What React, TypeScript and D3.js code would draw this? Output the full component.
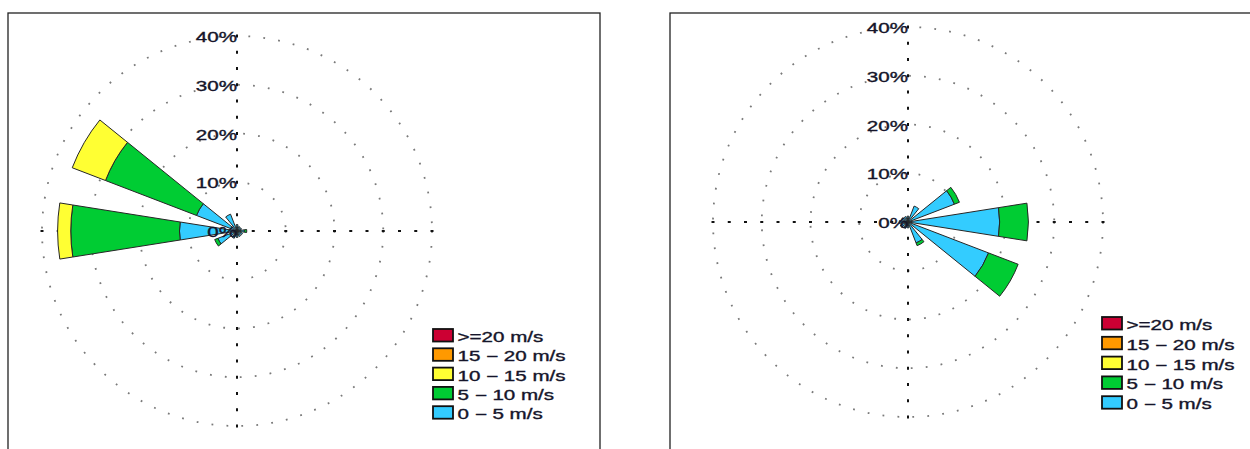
import React from "react";
import * as d3 from "d3";

// Wind direction sectors (degrees clockwise from north)
const directions = [0, 30, 60, 90, 120, 150, 180, 210, 240, 270, 300, 330];

// Speed classes, drawn from the centre outwards
const speedClasses = ["0 − 5 m/s", "5 − 10 m/s", "10 − 15 m/s", "15 − 20 m/s", ">=20 m/s"];
const speedColors = ["#33CCFF", "#00CC33", "#FFFF33", "#FF9900", "#CC0033"];

// Frequency (%) per sector and speed class — station A
const a0to5 = [1.3, 1.0, 1.0, 1.5, 1.2, 1.2, 1.3, 1.6, 4.2, 11.8, 8.9, 3.7];
const a5to10 = [0, 0, 0, 0.5, 0, 0, 0, 0, 0.7, 22.3, 20.0, 0];
const a10to15 = [0, 0, 0, 0, 0, 0, 0, 0, 0, 2.7, 7.3, 0];
const a15to20 = [0, 0, 0, 0, 0, 0, 0, 0, 0, 0, 0, 0];
const a20plus = [0, 0, 0, 0, 0, 0, 0, 0, 0, 0, 0, 0];

// Frequency (%) per sector and speed class — station B
const b0to5 = [1.2, 3.5, 10.2, 18.8, 17.7, 4.6, 1.2, 1.4, 1.7, 1.8, 1.4, 1.2];
const b5to10 = [0, 0, 1.1, 5.9, 6.5, 0.6, 0, 0, 0, 0, 0, 0];
const b10to15 = [0, 0, 0, 0, 0, 0, 0, 0, 0, 0, 0, 0];
const b15to20 = [0, 0, 0, 0, 0, 0, 0, 0, 0, 0, 0, 0];
const b20plus = [0, 0, 0, 0, 0, 0, 0, 0, 0, 0, 0, 0];

// Radial ticks
const radialTicks = [0, 10, 20, 30, 40];
const tickLabels = ["0%", "10%", "20%", "30%", "40%"];

const rScale = d3.scaleLinear().domain([0, 40]).range([0, 195]);
const toRad = (deg: number) => (deg * Math.PI) / 180;
const SECTOR_WIDTH = 18;
const TEXT_STRETCH = 1.47;
const FONT = "'Liberation Sans', Arial, sans-serif";
const TEXT_COLOR = "#15152a";

type PanelProps = {
  x: number;
  y: number;
  cx: number;
  cy: number;
  series: number[][];
  legendDx: number;
  legendDy: number;
  legendStep: number;
};

function Rose({ x, y, cx, cy, series, legendDx, legendDy, legendStep }: PanelProps) {
  const rMax = rScale(40);
  const axisStep = rMax / 12;
  const axisPositions = d3.range(0, 13).map((k) => k * axisStep);

  // stacked wedge segments
  const segments: { d: string; fill: string; key: string }[] = [];
  directions.forEach((dir, i) => {
    let lo = 0;
    series.forEach((vals, s) => {
      const v = vals[i];
      if (v <= 0) return;
      const hi = lo + v;
      const arc = d3
        .arc()
        .innerRadius(rScale(lo))
        .outerRadius(rScale(hi))
        .startAngle(toRad(dir - SECTOR_WIDTH / 2))
        .endAngle(toRad(dir + SECTOR_WIDTH / 2));
      segments.push({ d: arc({} as any) as string, fill: speedColors[s], key: `${dir}-${s}` });
      lo = hi;
    });
  });

  const textStyle = {
    fontFamily: FONT,
    fontSize: 14,
    fill: TEXT_COLOR,
    stroke: TEXT_COLOR,
    strokeWidth: 0.35,
  };

  return (
    <g>
      <rect x={x} y={y} width={592} height={460} fill="#fff" stroke="#222" strokeWidth={1.3} />
      <g transform={`translate(${cx},${cy})`}>
        {radialTicks.slice(1).map((t) => (
          <circle
            key={t}
            r={rScale(t)}
            fill="none"
            stroke="#7a7a7a"
            strokeWidth={1.8}
            strokeDasharray="1.8 13.2"
          />
        ))}
        {axisPositions.map((p, k) => (
          <g key={k} fill="#111">
            <rect x={-1} y={-p - 1.5} width={2} height={3} />
            <rect x={-1} y={p - 1.5} width={2} height={3} />
            <rect x={-p - 1.5} y={-1} width={3} height={2} />
            <rect x={p - 1.5} y={-1} width={3} height={2} />
          </g>
        ))}
        {segments.map((s) => (
          <path key={s.key} d={s.d} fill={s.fill} stroke="#262626" strokeWidth={1} />
        ))}
        {radialTicks.map((t, i) => (
          <text
            key={t}
            transform={`translate(0,${-rScale(t) + 6}) scale(${TEXT_STRETCH},1)`}
            textAnchor="end"
            style={textStyle}
          >
            {tickLabels[i]}
          </text>
        ))}
      </g>
      <g transform={`translate(${cx + legendDx},${cy + legendDy})`}>
        {speedClasses
          .map((label, i) => ({ label, color: speedColors[i] }))
          .reverse()
          .map((item, row) => (
            <g key={item.label} transform={`translate(0,${row * legendStep})`}>
              <rect x={0} y={0} width={20} height={12.5} fill={item.color} stroke="#111" strokeWidth={1.8} />
              <text transform={`translate(24.5,13) scale(${TEXT_STRETCH},1)`} style={textStyle}>
                {item.label}
              </text>
            </g>
          ))}
      </g>
    </g>
  );
}

export default function App() {
  const seriesA = [a0to5, a5to10, a10to15, a15to20, a20plus];
  const seriesB = [b0to5, b5to10, b10to15, b15to20, b20plus];
  return (
    <svg
      width={1250}
      height={449}
      style={{ position: "absolute", left: 0, top: 0, background: "#fff" }}
    >
      <Rose x={8} y={13} cx={237} cy={231} series={seriesA} legendDx={196} legendDy={98} legendStep={19.3} />
      <Rose x={670} y={13} cx={908} cy={222} series={seriesB} legendDx={194} legendDy={95} legendStep={19.8} />
    </svg>
  );
}
